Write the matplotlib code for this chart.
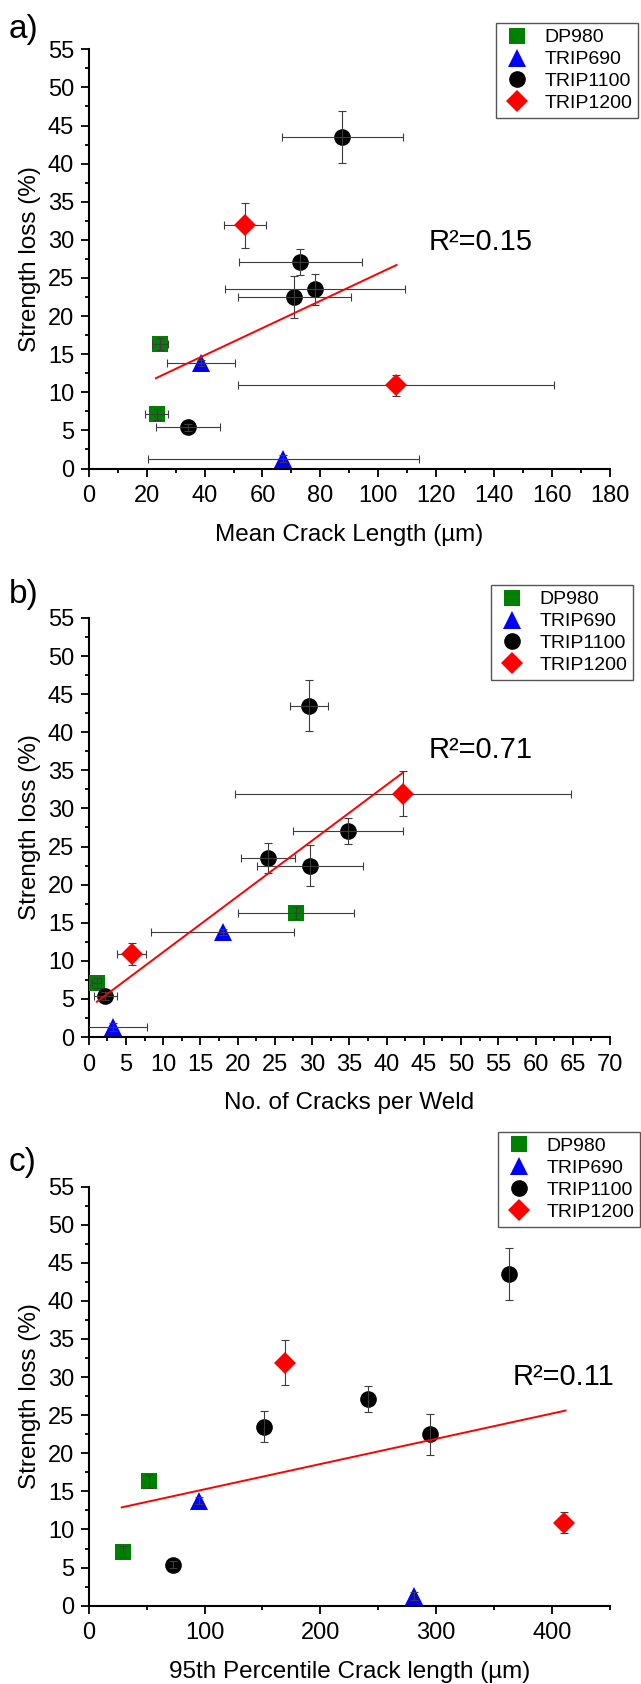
import matplotlib
matplotlib.use('Agg')
import matplotlib.pyplot as plt
from matplotlib.ticker import MultipleLocator

plt.rcParams['font.family'] = ['Liberation Sans', 'DejaVu Sans']

groups = ['DP980', 'TRIP690', 'TRIP1100', 'TRIP1200']

# strength loss (%) - same samples in every panel
loss_dp980 = [16.3, 7.1]
loss_dp980_err = [0.8, 0.7]
loss_trip690 = [13.8, 1.3]
loss_trip690_err = [0.4, 0.5]
loss_trip1100 = [43.5, 27.1, 22.5, 23.5, 5.4]
loss_trip1100_err = [3.4, 1.7, 2.7, 2.0, 0.5]
loss_trip1200 = [31.9, 10.9]
loss_trip1200_err = [2.95, 1.4]

# a) mean crack length (um)
mean_dp980 = [24.6, 23.5]
mean_dp980_err = [2.9, 4.0]
mean_trip690 = [38.8, 67.2]
mean_trip690_err = [11.8, 46.8]
mean_trip1100 = [87.6, 73.0, 71.0, 78.1, 34.4]
mean_trip1100_err = [21.0, 21.2, 19.6, 31.2, 11.1]
mean_trip1200 = [54.0, 106.1]
mean_trip1200_err = [7.2, 54.7]
fit_a_x = [23.2, 106.3]
fit_a_y = [11.85, 26.7]

# b) number of cracks per weld
count_dp980 = [27.8, 1.1]
count_dp980_err = [7.8, 0.6]
count_trip690 = [18.0, 3.3]
count_trip690_err = [9.6, 4.5]
count_trip1100 = [29.6, 34.8, 29.7, 24.1, 2.25]
count_trip1100_err = [2.55, 7.4, 7.1, 3.6, 1.5]
count_trip1200 = [42.2, 5.75]
count_trip1200_err = [22.5, 1.9]
fit_b_x = [1.1, 42.2]
fit_b_y = [4.64, 34.7]

# c) 95th percentile crack length (um)
p95_dp980 = [52.0, 29.2]
p95_trip690 = [94.9, 280.5]
p95_trip1100 = [363.0, 241.0, 295.0, 151.0, 72.4]
p95_trip1200 = [169.8, 410.5]
fit_c_x = [28.5, 411.6]
fit_c_y = [12.9, 25.6]

W, H = 641, 1684
colors = ['#008000', '#0000ff', '#000000', '#ff0000']
markers = ['s', '^', 'o', 'D']
sizes = [11.5, 13.5, 12, 11]
bars_on_top = [True, True, True, False]
ys = [loss_dp980, loss_trip690, loss_trip1100, loss_trip1200]
yerrs = [loss_dp980_err, loss_trip690_err, loss_trip1100_err, loss_trip1200_err]

fig = plt.figure(figsize=(W / 100, H / 100), dpi=100)
fig.patch.set_facecolor('white')


def panel(top, xs, xerrs, fit_x, fit_y, r2, r2_xy, xmax, major, minor,
          xlabel, letter, letter_y, leg_xy):
    left, right, bottom = 88.7, 610.0, top + 419.2
    ax = fig.add_axes([left / W, 1 - bottom / H, (right - left) / W, (bottom - top) / H])
    handles = []
    for i, g in enumerate(groups):
        xe = xerrs[i] if xerrs is not None else None
        zb = 4 if bars_on_top[i] else 2
        ax.errorbar(xs[i], ys[i], xerr=xe, yerr=yerrs[i], fmt='none',
                    ecolor='#3c3c3c', elinewidth=0.8, capsize=3, capthick=0.8,
                    zorder=zb, clip_on=False if xe is None else True)
        h, = ax.plot(xs[i], ys[i], ls='none', marker=markers[i], ms=sizes[i],
                     color=colors[i], mew=0, label=g, zorder=3, clip_on=False)
        handles.append(h)
    ax.plot(fit_x, fit_y, color='#ff0000', lw=1.4, zorder=5)
    ax.text(r2_xy[0], r2_xy[1], r2, fontsize=21, va='baseline', ha='left')

    ax.set_xlim(0, xmax)
    ax.set_ylim(0, 55)
    ax.xaxis.set_major_locator(MultipleLocator(major))
    ax.xaxis.set_minor_locator(MultipleLocator(minor))
    ax.yaxis.set_major_locator(MultipleLocator(5))
    ax.yaxis.set_minor_locator(MultipleLocator(2.5))
    for s in ['top', 'right']:
        ax.spines[s].set_visible(False)
    for s in ['left', 'bottom']:
        ax.spines[s].set_linewidth(1.5)
    ax.tick_params(which='major', direction='out', length=5.5, width=1.3,
                   labelsize=17)
    ax.tick_params(axis='x', which='major', pad=6.5)
    ax.tick_params(axis='y', which='major', pad=5)
    ax.tick_params(which='minor', direction='out', length=3, width=1.3)
    ax.set_xlabel(xlabel, fontsize=17.5)
    ax.set_ylabel('Strength loss (%)', fontsize=17.5)
    ax.xaxis.set_label_coords(0.5, -0.132)
    ax.yaxis.set_label_coords(-0.092, 0.5)

    leg = ax.legend(handles=handles, loc='upper left',
                    bbox_to_anchor=(leg_xy[0] / W, 1 - leg_xy[1] / H),
                    bbox_transform=fig.transFigure, fontsize=14,
                    frameon=True, fancybox=False, framealpha=1,
                    edgecolor='#555555', borderpad=0.3, labelspacing=0.22,
                    handlelength=1.6, handletextpad=0.6, borderaxespad=0)
    leg.get_frame().set_linewidth(1.0)
    fig.text(9 / W, 1 - letter_y / H, letter, fontsize=24, va='center', ha='left')
    return ax


panel(49.3, [mean_dp980, mean_trip690, mean_trip1100, mean_trip1200],
      [mean_dp980_err, mean_trip690_err, mean_trip1100_err, mean_trip1200_err],
      fit_a_x, fit_a_y, 'R²=0.15', (117.3, 28.7), 180, 20, 10,
      'Mean Crack Length (µm)', 'a)', 29.5, (496, 23))

panel(617.9, [count_dp980, count_trip690, count_trip1100, count_trip1200],
      [count_dp980_err, count_trip690_err, count_trip1100_err, count_trip1200_err],
      fit_b_x, fit_b_y, 'R²=0.71', (45.6, 36.6), 70, 5, 2.5,
      'No. of Cracks per Weld', 'b)', 595, (490.6, 585))

panel(1186.5, [p95_dp980, p95_trip690, p95_trip1100, p95_trip1200], None,
      fit_c_x, fit_c_y, 'R²=0.11', (365.6, 29.0), 450, 100, 50,
      '95th Percentile Crack length (µm)', 'c)', 1162, (498, 1131.7))

fig.savefig('out.png', dpi=100)
